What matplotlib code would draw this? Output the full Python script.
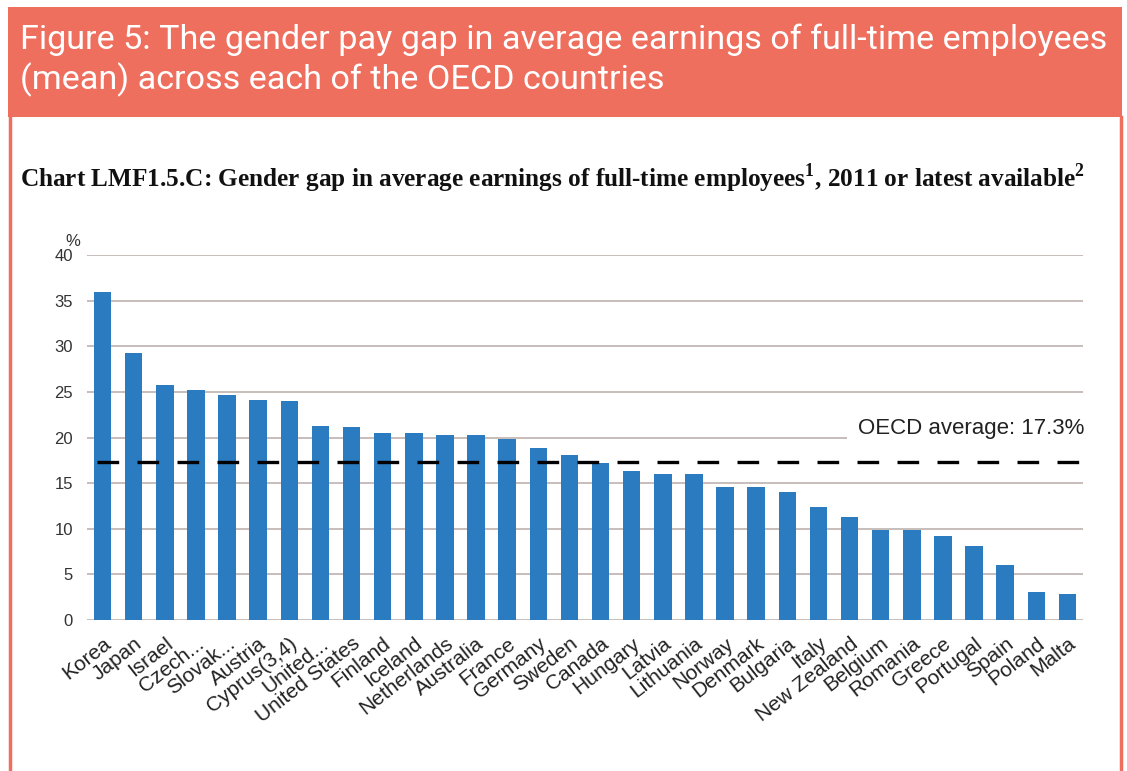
import matplotlib
matplotlib.use("Agg")
import matplotlib.pyplot as plt
from matplotlib.patches import Rectangle
from matplotlib.lines import Line2D

countries = ["Korea", "Japan", "Israel", "Czech...", "Slovak...", "Austria", "Cyprus(3,4)",
             "United...", "United States", "Finland", "Iceland", "Netherlands", "Australia",
             "France", "Germany", "Sweden", "Canada", "Hungary", "Latvia", "Lithuania",
             "Norway", "Denmark", "Bulgaria", "Italy", "New Zealand", "Belgium", "Romania",
             "Greece", "Portugal", "Spain", "Poland", "Malta"]
gap = [36.0, 29.3, 25.8, 25.2, 24.7, 24.1, 24.0, 21.3, 21.1, 20.5, 20.5, 20.3, 20.3,
       19.8, 18.8, 18.1, 17.2, 16.3, 16.0, 16.0, 14.6, 14.6, 14.0, 12.4, 11.3, 9.9, 9.9,
       9.2, 8.1, 6.0, 3.1, 2.9]
oecd_avg = 17.3
yticks = [0, 5, 10, 15, 20, 25, 30, 35, 40]

header_line1 = "Figure 5: The gender pay gap in average earnings of full-time employees"
header_line2 = "(mean) across each of the OECD countries"
chart_title = r"Chart LMF1.5.C: Gender gap in average earnings of full-time employees$^{\mathbf{1}}$, 2011 or latest available$^{\mathbf{2}}$"
avg_label = "OECD average: 17.3%"

plt.rcParams["mathtext.fontset"] = "custom"
plt.rcParams["mathtext.rm"] = "Liberation Serif"
plt.rcParams["mathtext.bf"] = "Liberation Serif:bold"

W, H = 1127, 771
fig = plt.figure(figsize=(W / 100, H / 100), dpi=100)
fig.patch.set_facecolor("white")

coral = "#EF6F5F"

def fx(x):
    return x / W

def fy(y):
    return 1 - y / H

# header box and border
fig.patches.append(Rectangle((fx(8), fy(117)), fx(1122) - fx(8), fy(7) - fy(117),
                             transform=fig.transFigure, facecolor=coral, edgecolor="none", zorder=0))
fig.lines.append(Line2D([fx(9.5), fx(9.5)], [fy(117), 0], transform=fig.transFigure,
                        color=coral, linewidth=2.5))
fig.lines.append(Line2D([fx(1121), fx(1121)], [fy(117), 0], transform=fig.transFigure,
                        color=coral, linewidth=2.5))

fig.text(fx(20), fy(49), header_line1, color="white", fontsize=24.6, family="Roboto",
         ha="left", va="baseline")
fig.text(fx(20), fy(89), header_line2, color="white", fontsize=24.6, family="Roboto",
         ha="left", va="baseline")

fig.text(fx(20), fy(187), chart_title, color="#111111", fontsize=18.2, fontweight="bold",
         family="Liberation Serif", ha="left", va="baseline")

ax = fig.add_axes([fx(87), fy(620), fx(1083) - fx(87), fy(255) - fy(620)])
x = list(range(len(countries)))
ax.bar(x, gap, width=0.56, color="#2B7BC0", zorder=3)
ax.set_xlim(-0.5, len(countries) - 0.5)
ax.set_ylim(0, 40)
ax.set_yticks(yticks)
ax.set_yticklabels([str(t) for t in yticks], family="Liberation Sans", fontsize=12, color="#333333")
ax.yaxis.grid(True, color="#BDB2AF", linewidth=1.2, zorder=0)
ax.set_axisbelow(True)
for s in ax.spines.values():
    s.set_visible(False)
ax.tick_params(axis="both", length=0)
ax.tick_params(axis="y", pad=10)
ax.set_xticks(x)
ax.set_xticklabels(countries, rotation=38, ha="right", rotation_mode="anchor",
                   family="Liberation Sans", fontsize=15, color="#222222")
ax.tick_params(axis="x", pad=10)

ax.axhline(oecd_avg, xmin=0.01, xmax=1.0, color="black", linewidth=2.4,
           dashes=(6.5, 5.5), zorder=4)
ax.text(len(countries) - 0.45, 21.0, avg_label, ha="right", va="center",
        family="Liberation Sans", fontsize=16, color="#222222", zorder=5,
        bbox=dict(facecolor="white", edgecolor="none", pad=8))
fig.text(fx(73), fy(246), "%", ha="center", va="baseline", family="Liberation Sans",
         fontsize=12, color="#333333")

fig.savefig("out.png", dpi=100)
